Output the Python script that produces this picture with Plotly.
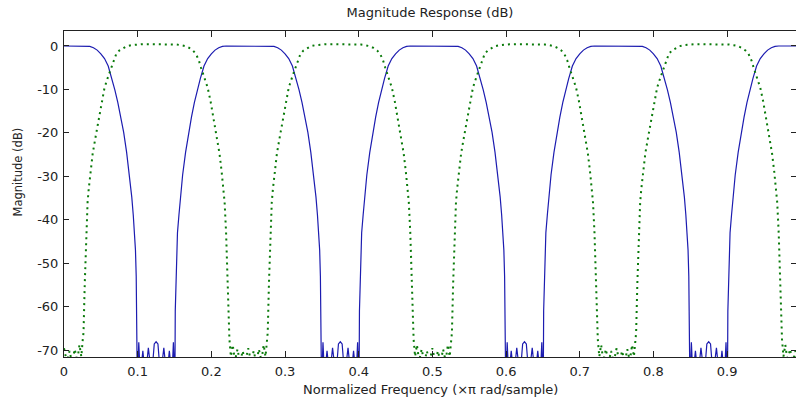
import plotly.graph_objects as go

# ---- Blue (solid) filter: frequency (x pi rad/sample) and magnitude (dB)
blue_freq = [
    0.000, 0.030, 0.035, 0.040, 0.045, 0.050, 0.055, 0.060, 0.065, 0.069, 0.073, 0.077, 0.081, 0.085,
    0.089, 0.092, 0.094, 0.096, 0.097, 0.098, 0.099, 0.0995,
    0.1015, 0.1035, 0.107, 0.1105, 0.1145, 0.119, 0.1225, 0.125, 0.1275, 0.131, 0.1355, 0.1395, 0.143,
    0.1465, 0.1485,
    0.1505, 0.151, 0.152, 0.153, 0.154, 0.156, 0.158, 0.161, 0.165, 0.169, 0.173, 0.177, 0.181, 0.185,
    0.190, 0.195, 0.200, 0.205, 0.210, 0.215, 0.220,
    0.280, 0.285, 0.290, 0.295, 0.300, 0.305, 0.310, 0.315, 0.319, 0.323, 0.327, 0.331, 0.335, 0.339,
    0.342, 0.344, 0.346, 0.347, 0.348, 0.349, 0.3495,
    0.3515, 0.3535, 0.357, 0.3605, 0.3645, 0.369, 0.3725, 0.375, 0.3775, 0.381, 0.3855, 0.3895, 0.393,
    0.3965, 0.3985,
    0.4005, 0.401, 0.402, 0.403, 0.404, 0.406, 0.408, 0.411, 0.415, 0.419, 0.423, 0.427, 0.431, 0.435,
    0.440, 0.445, 0.450, 0.455, 0.460, 0.465, 0.470,
    0.530, 0.535, 0.540, 0.545, 0.550, 0.555, 0.560, 0.565, 0.569, 0.573, 0.577, 0.581, 0.585, 0.589,
    0.592, 0.594, 0.596, 0.597, 0.598, 0.599, 0.5995,
    0.6015, 0.6035, 0.607, 0.6105, 0.6145, 0.619, 0.6225, 0.625, 0.6275, 0.631, 0.6355, 0.6395, 0.643,
    0.6465, 0.6485,
    0.6505, 0.651, 0.652, 0.653, 0.654, 0.656, 0.658, 0.661, 0.665, 0.669, 0.673, 0.677, 0.681, 0.685,
    0.690, 0.695, 0.700, 0.705, 0.710, 0.715, 0.720,
    0.780, 0.785, 0.790, 0.795, 0.800, 0.805, 0.810, 0.815, 0.819, 0.823, 0.827, 0.831, 0.835, 0.839,
    0.842, 0.844, 0.846, 0.847, 0.848, 0.849, 0.8495,
    0.8515, 0.8535, 0.857, 0.8605, 0.8645, 0.869, 0.8725, 0.875, 0.8775, 0.881, 0.8855, 0.8895, 0.893,
    0.8965, 0.8985,
    0.9005, 0.901, 0.902, 0.903, 0.904, 0.906, 0.908, 0.911, 0.915, 0.919, 0.923, 0.927, 0.931, 0.935,
    0.940, 0.945, 0.950, 0.955, 0.960, 0.965, 0.970, 0.998,
]
blue_db = [
    0, 0, -0.1, -0.4, -0.95, -1.8, -2.9, -4.6, -7.5, -10.1, -13.0, -16.4, -19.9, -24.5,
    -29.7, -34.8, -38.9, -43, -47, -53, -61, -78,
    -68.2, -76, -70.2, -76, -69.5, -76, -68.6, -68.1, -68.6, -76, -69.5, -76, -70.2, -76, -68.2,
    -78, -61, -53, -47, -43, -38.9, -34.8, -29.7, -24.5, -19.9, -16.4, -13.0, -10.1, -7.5,
    -4.6, -2.9, -1.8, -0.95, -0.4, -0.1, 0,
    0, -0.1, -0.4, -0.95, -1.8, -2.9, -4.6, -7.5, -10.1, -13.0, -16.4, -19.9, -24.5, -29.7,
    -34.8, -38.9, -43, -47, -53, -61, -78,
    -68.2, -76, -70.2, -76, -69.5, -76, -68.6, -68.1, -68.6, -76, -69.5, -76, -70.2, -76, -68.2,
    -78, -61, -53, -47, -43, -38.9, -34.8, -29.7, -24.5, -19.9, -16.4, -13.0, -10.1, -7.5,
    -4.6, -2.9, -1.8, -0.95, -0.4, -0.1, 0,
    0, -0.1, -0.4, -0.95, -1.8, -2.9, -4.6, -7.5, -10.1, -13.0, -16.4, -19.9, -24.5, -29.7,
    -34.8, -38.9, -43, -47, -53, -61, -78,
    -68.2, -76, -70.2, -76, -69.5, -76, -68.6, -68.1, -68.6, -76, -69.5, -76, -70.2, -76, -68.2,
    -78, -61, -53, -47, -43, -38.9, -34.8, -29.7, -24.5, -19.9, -16.4, -13.0, -10.1, -7.5,
    -4.6, -2.9, -1.8, -0.95, -0.4, -0.1, 0,
    0, -0.1, -0.4, -0.95, -1.8, -2.9, -4.6, -7.5, -10.1, -13.0, -16.4, -19.9, -24.5, -29.7,
    -34.8, -38.9, -43, -47, -53, -61, -78,
    -68.2, -76, -70.2, -76, -69.5, -76, -68.6, -68.1, -68.6, -76, -69.5, -76, -70.2, -76, -68.2,
    -78, -61, -53, -47, -43, -38.9, -34.8, -29.7, -24.5, -19.9, -16.4, -13.0, -10.1, -7.5,
    -4.6, -2.9, -1.8, -0.95, -0.4, -0.1, 0, 0,
]

# ---- Green (dotted) filter
green_freq = [
    0.000, 0.004, 0.0075, 0.011, 0.0145, 0.018, 0.021, 0.0235, 0.0255,
    0.0265, 0.0282, 0.030, 0.032, 0.0335, 0.036, 0.039, 0.043, 0.047, 0.051, 0.055, 0.060, 0.064,
    0.067, 0.071, 0.075, 0.080, 0.085, 0.091, 0.097, 0.105, 0.115, 0.125,
    0.135, 0.145, 0.153, 0.159, 0.165, 0.170, 0.175, 0.179, 0.183, 0.186, 0.190, 0.195, 0.199,
    0.203, 0.207, 0.211, 0.214, 0.2165, 0.218, 0.220, 0.2218, 0.2235,
    0.2245, 0.2265, 0.229, 0.232, 0.2355, 0.239, 0.2425, 0.246, 0.250, 0.254, 0.2575, 0.261, 0.2645,
    0.268, 0.271, 0.2735, 0.2755,
    0.2765, 0.2782, 0.280, 0.282, 0.2835, 0.286, 0.289, 0.293, 0.297, 0.301, 0.305, 0.310, 0.314,
    0.317, 0.321, 0.325, 0.330, 0.335, 0.341, 0.347, 0.355, 0.365, 0.375,
    0.385, 0.395, 0.403, 0.409, 0.415, 0.420, 0.425, 0.429, 0.433, 0.436, 0.440, 0.445, 0.449,
    0.453, 0.457, 0.461, 0.464, 0.4665, 0.468, 0.470, 0.4718, 0.4735,
    0.4745, 0.4765, 0.479, 0.482, 0.4855, 0.489, 0.4925, 0.496, 0.500, 0.504, 0.5075, 0.511, 0.5145,
    0.518, 0.521, 0.5235, 0.5255,
    0.5265, 0.5282, 0.530, 0.532, 0.5335, 0.536, 0.539, 0.543, 0.547, 0.551, 0.555, 0.560, 0.564,
    0.567, 0.571, 0.575, 0.580, 0.585, 0.591, 0.597, 0.605, 0.615, 0.625,
    0.635, 0.645, 0.653, 0.659, 0.665, 0.670, 0.675, 0.679, 0.683, 0.686, 0.690, 0.695, 0.699,
    0.703, 0.707, 0.711, 0.714, 0.7165, 0.718, 0.720, 0.7218, 0.7235,
    0.7245, 0.7265, 0.729, 0.732, 0.7355, 0.739, 0.7425, 0.746, 0.750, 0.754, 0.7575, 0.761, 0.7645,
    0.768, 0.771, 0.7735, 0.7755,
    0.7765, 0.7782, 0.780, 0.782, 0.7835, 0.786, 0.789, 0.793, 0.797, 0.801, 0.805, 0.810, 0.814,
    0.817, 0.821, 0.825, 0.830, 0.835, 0.841, 0.847, 0.855, 0.865, 0.875,
    0.885, 0.895, 0.903, 0.909, 0.915, 0.920, 0.925, 0.929, 0.933, 0.936, 0.940, 0.945, 0.949,
    0.953, 0.957, 0.961, 0.964, 0.9665, 0.968, 0.970, 0.9718, 0.9735,
    0.9745, 0.9765, 0.979, 0.982, 0.9855, 0.989, 0.9925, 0.996, 1.000,
]
green_db = [
    -69.6, -72.8, -70.2, -73, -69.8, -72.5, -68.8, -71.5, -67.5,
    -66.0, -54.5, -43.0, -36.0, -33.0, -29.0, -24.7, -20.8, -17.0, -12.8, -9.6, -7.0, -5.0,
    -3.3, -1.8, -1.05, -0.45, -0.05, 0.18, 0.32, 0.40, 0.42, 0.40,
    0.42, 0.40, 0.32, 0.18, -0.05, -0.45, -1.05, -1.8, -3.3, -5.0, -7.0, -9.6, -12.8,
    -17.0, -20.8, -24.7, -29.0, -33.0, -36.0, -43.0, -54.5, -66.0,
    -67.5, -71.5, -68.8, -72.5, -69.8, -73, -70.2, -72.8, -69.6, -72.8, -70.2, -73, -69.8,
    -72.5, -68.8, -71.5, -67.5,
    -66.0, -54.5, -43.0, -36.0, -33.0, -29.0, -24.7, -20.8, -17.0, -12.8, -9.6, -7.0, -5.0,
    -3.3, -1.8, -1.05, -0.45, -0.05, 0.18, 0.32, 0.40, 0.42, 0.40,
    0.42, 0.40, 0.32, 0.18, -0.05, -0.45, -1.05, -1.8, -3.3, -5.0, -7.0, -9.6, -12.8,
    -17.0, -20.8, -24.7, -29.0, -33.0, -36.0, -43.0, -54.5, -66.0,
    -67.5, -71.5, -68.8, -72.5, -69.8, -73, -70.2, -72.8, -69.6, -72.8, -70.2, -73, -69.8,
    -72.5, -68.8, -71.5, -67.5,
    -66.0, -54.5, -43.0, -36.0, -33.0, -29.0, -24.7, -20.8, -17.0, -12.8, -9.6, -7.0, -5.0,
    -3.3, -1.8, -1.05, -0.45, -0.05, 0.18, 0.32, 0.40, 0.42, 0.40,
    0.42, 0.40, 0.32, 0.18, -0.05, -0.45, -1.05, -1.8, -3.3, -5.0, -7.0, -9.6, -12.8,
    -17.0, -20.8, -24.7, -29.0, -33.0, -36.0, -43.0, -54.5, -66.0,
    -67.5, -71.5, -68.8, -72.5, -69.8, -73, -70.2, -72.8, -69.6, -72.8, -70.2, -73, -69.8,
    -72.5, -68.8, -71.5, -67.5,
    -66.0, -54.5, -43.0, -36.0, -33.0, -29.0, -24.7, -20.8, -17.0, -12.8, -9.6, -7.0, -5.0,
    -3.3, -1.8, -1.05, -0.45, -0.05, 0.18, 0.32, 0.40, 0.42, 0.40,
    0.42, 0.40, 0.32, 0.18, -0.05, -0.45, -1.05, -1.8, -3.3, -5.0, -7.0, -9.6, -12.8,
    -17.0, -20.8, -24.7, -29.0, -33.0, -36.0, -43.0, -54.5, -66.0,
    -67.5, -71.5, -68.8, -72.5, -69.8, -73, -70.2, -72.8, -69.6,
]

x_tick_vals = [0, 0.1, 0.2, 0.3, 0.4, 0.5, 0.6, 0.7, 0.8, 0.9]
x_tick_text = ["0", "0.1", "0.2", "0.3", "0.4", "0.5", "0.6", "0.7", "0.8", "0.9"]
y_tick_vals = [0, -10, -20, -30, -40, -50, -60, -70]
y_tick_text = ["0", "-10", "-20", "-30", "-40", "-50", "-60", "-70"]

title_text = "Magnitude Response (dB)"
x_title = "Normalized Frequency (\u00d7\u03c0 rad/sample)"
y_title = "Magnitude (dB)"

FONT = "DejaVu Sans"
INK = "#222222"

fig = go.Figure()
fig.add_trace(go.Scatter(
    x=blue_freq, y=blue_db, mode="lines",
    line=dict(color="#1c1cb0", width=1.2),
    showlegend=False, hoverinfo="skip",
))
fig.add_trace(go.Scatter(
    x=green_freq, y=green_db, mode="lines",
    line=dict(color="#0a7a0a", width=2, dash="2px,4px"),
    showlegend=False, hoverinfo="skip",
))

fig.update_layout(
    width=796, height=403, autosize=False,
    margin=dict(l=64, r=0, t=31, b=46, pad=0),
    paper_bgcolor="white", plot_bgcolor="white",
    font=dict(family=FONT, size=13, color=INK),
    title=dict(text=title_text, x=0.5, xref="paper", xanchor="center",
               y=1 - 12 / 403, yref="container", yanchor="middle",
               font=dict(family=FONT, size=13, color=INK)),
    xaxis=dict(
        range=[0, 0.9935], tickmode="array", tickvals=x_tick_vals, ticktext=x_tick_text,
        ticks="inside", ticklen=6, tickwidth=1, tickcolor=INK,
        showline=True, linecolor=INK, linewidth=1, mirror="allticks",
        showgrid=False, zeroline=False, ticklabelstandoff=2,
        tickfont=dict(family=FONT, size=13, color=INK),
    ),
    yaxis=dict(
        range=[-71.6, 3.45], tickmode="array", tickvals=y_tick_vals, ticktext=y_tick_text,
        ticks="inside", ticklen=5, tickwidth=1, tickcolor=INK,
        showline=True, linecolor=INK, linewidth=1, mirror="allticks",
        showgrid=False, zeroline=False, ticklabelstandoff=2,
        tickfont=dict(family=FONT, size=13, color=INK),
    ),
    annotations=[
        dict(text=x_title, xref="paper", yref="paper", x=0.5, y=0, yshift=-32,
             xanchor="center", yanchor="middle", showarrow=False,
             font=dict(family=FONT, size=13, color=INK)),
        dict(text=y_title, xref="paper", yref="paper", x=0, y=0.566, xshift=-46,
             xanchor="center", yanchor="middle", textangle=-90, showarrow=False,
             font=dict(family=FONT, size=11.5, color=INK)),
    ],
)

fig.write_html(
    "out.html",
    config={"displayModeBar": False, "staticPlot": True},
    post_script="document.body.style.margin='0px';document.body.style.overflow='hidden';",
)
